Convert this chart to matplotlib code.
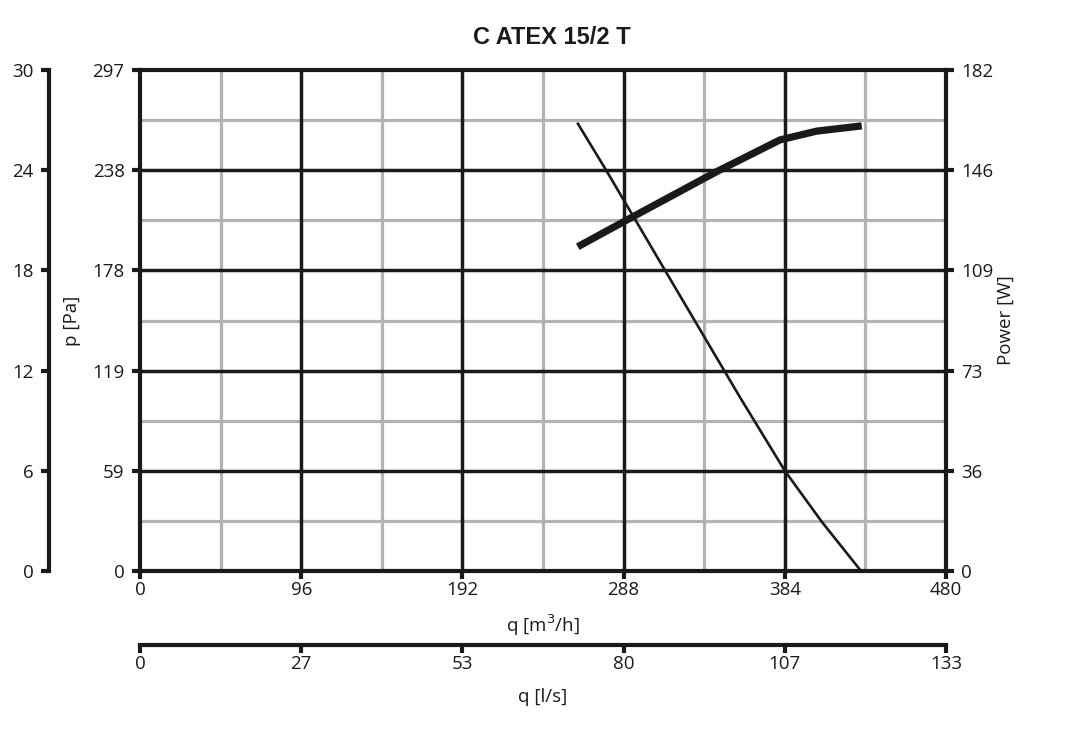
import matplotlib
matplotlib.use("Agg")
import matplotlib.pyplot as plt
import numpy as np

# ---- data ----
title = "C ATEX 15/2 T"
q_pressure = [260.4, 277.9, 314.4, 357.3, 384.1, 406.0, 429.4]   # m3/h
p_pressure = [265.8, 237.1, 175.3, 103.0, 59.3, 29.2, 0.0]        # Pa
q_power = [260.7, 289.9, 343.5, 381.1, 403.0, 429.8]              # m3/h
p_power = [117.8, 127.5, 145.1, 156.6, 159.8, 161.7]              # W

q_max, p_max, w_max, mm_max = 480, 297, 182, 30
q_tick_labels = ["0", "96", "192", "288", "384", "480"]
ls_tick_labels = ["0", "27", "53", "80", "107", "133"]
p_tick_labels = ["0", "59", "119", "178", "238", "297"]
w_tick_labels = ["0", "36", "73", "109", "146", "182"]
mm_tick_labels = ["0", "6", "12", "18", "24", "30"]

plt.rcParams['font.family'] = ['Open Sans', 'DejaVu Sans']
FS = 13.5
TXT = '#1a1a1a'
BLK = '#1a1a1a'
GRY = '#b3b3b3'
PAD = 5
TL = 6

W, H = 1069, 735
fig = plt.figure(figsize=(W/100, H/100), dpi=100)
L, R, T, B = 140, 946, 70, 571
rect = [L/W, 1 - B/H, (R-L)/W, (B-T)/H]
ax = fig.add_axes(rect)
ax.set_xlim(0, q_max)
ax.set_ylim(0, p_max)

n = len(q_tick_labels) - 1
xt = np.linspace(0, q_max, n + 1)
yt = np.linspace(0, p_max, n + 1)
ax.set_xticks(xt)
ax.set_xticklabels(q_tick_labels)
ax.set_yticks(yt)
ax.set_yticklabels(p_tick_labels)
xm = (xt[:-1] + xt[1:]) / 2
ym = (yt[:-1] + yt[1:]) / 2

for v in xm:
    ax.axvline(v, color=GRY, lw=2.3, zorder=0.3)
for v in ym:
    ax.axhline(v, color=GRY, lw=2.3, zorder=0.3)
for v in xt[1:-1]:
    ax.axvline(v, color=BLK, lw=2.5, zorder=0.4)
for v in yt[1:-1]:
    ax.axhline(v, color=BLK, lw=2.5, zorder=0.4)

for s in ax.spines.values():
    s.set_linewidth(3)
    s.set_color(BLK)
    s.set_zorder(3)
ax.tick_params(axis='y', direction='out', length=TL, width=3, color=BLK,
               labelsize=FS, labelcolor=TXT, pad=PAD)
ax.tick_params(axis='x', direction='out', length=TL, width=3, color=BLK,
               labelsize=FS, labelcolor=TXT, pad=1)

ax.plot(q_pressure, p_pressure, color=BLK, lw=1.9, zorder=4, solid_capstyle='butt')

ax.set_xlabel("q [m$^3$/h]", fontsize=FS, color=TXT, va='center')
ax.xaxis.set_label_coords(0.5, -(625-571)/(B-T))
ax.set_ylabel("p [Pa]", fontsize=FS, color=TXT, va='center')
ax.yaxis.set_label_coords(-(140-72)/(R-L), 0.5)

# right power axis
ax2 = ax.twinx()
ax2.set_ylim(0, w_max)
ax2.set_yticks(np.linspace(0, w_max, n + 1))
ax2.set_yticklabels(w_tick_labels)
for s in ax2.spines.values():
    s.set_visible(False)
ax2.tick_params(axis='y', direction='out', length=TL, width=3, color=BLK,
                labelsize=FS, labelcolor=TXT, pad=PAD)
ax2.plot(q_power, p_power, color=BLK, lw=5.2, zorder=5, solid_capstyle='butt',
         solid_joinstyle='round')
ax2.set_ylabel("Power [W]", fontsize=FS, color=TXT, va='center')
ax2.yaxis.set_label_coords(1 + (1006-946)/(R-L), 0.5)

# outer left axis
axL = fig.add_axes(rect)
axL.patch.set_visible(False)
axL.set_ylim(0, mm_max)
axL.set_xticks([])
axL.set_yticks(np.linspace(0, mm_max, n + 1))
axL.set_yticklabels(mm_tick_labels)
for k in ['top', 'right', 'bottom']:
    axL.spines[k].set_visible(False)
axL.spines['left'].set_position(('outward', (140-49)*0.72))
axL.spines['left'].set_linewidth(3)
axL.spines['left'].set_color(BLK)
axL.tick_params(axis='y', direction='out', length=TL, width=3, color=BLK,
                labelsize=FS, labelcolor=TXT, pad=PAD)

# bottom l/s axis
yb = 645
axB = fig.add_axes([L/W, 1 - yb/H, (R-L)/W, 0.0001])
axB.patch.set_visible(False)
axB.set_xlim(0, q_max/3.6)
axB.set_xticks(xt/3.6)
axB.set_xticklabels(ls_tick_labels)
axB.set_yticks([])
for k in ['top', 'right', 'left']:
    axB.spines[k].set_visible(False)
axB.spines['bottom'].set_linewidth(3)
axB.spines['bottom'].set_color(BLK)
axB.tick_params(axis='x', direction='out', length=TL, width=3, color=BLK,
                labelsize=FS, labelcolor=TXT, pad=1)

fig.text(552/W, 1 - 38/H, title, ha='center', va='center',
         fontsize=17, fontweight='bold', family='Liberation Sans', color=TXT)

fig.text((L+R)/2/W, 1 - 697/H, "q [l/s]", ha='center', va='center',
         fontsize=FS, color=TXT)

fig.savefig("out.png", dpi=100)
